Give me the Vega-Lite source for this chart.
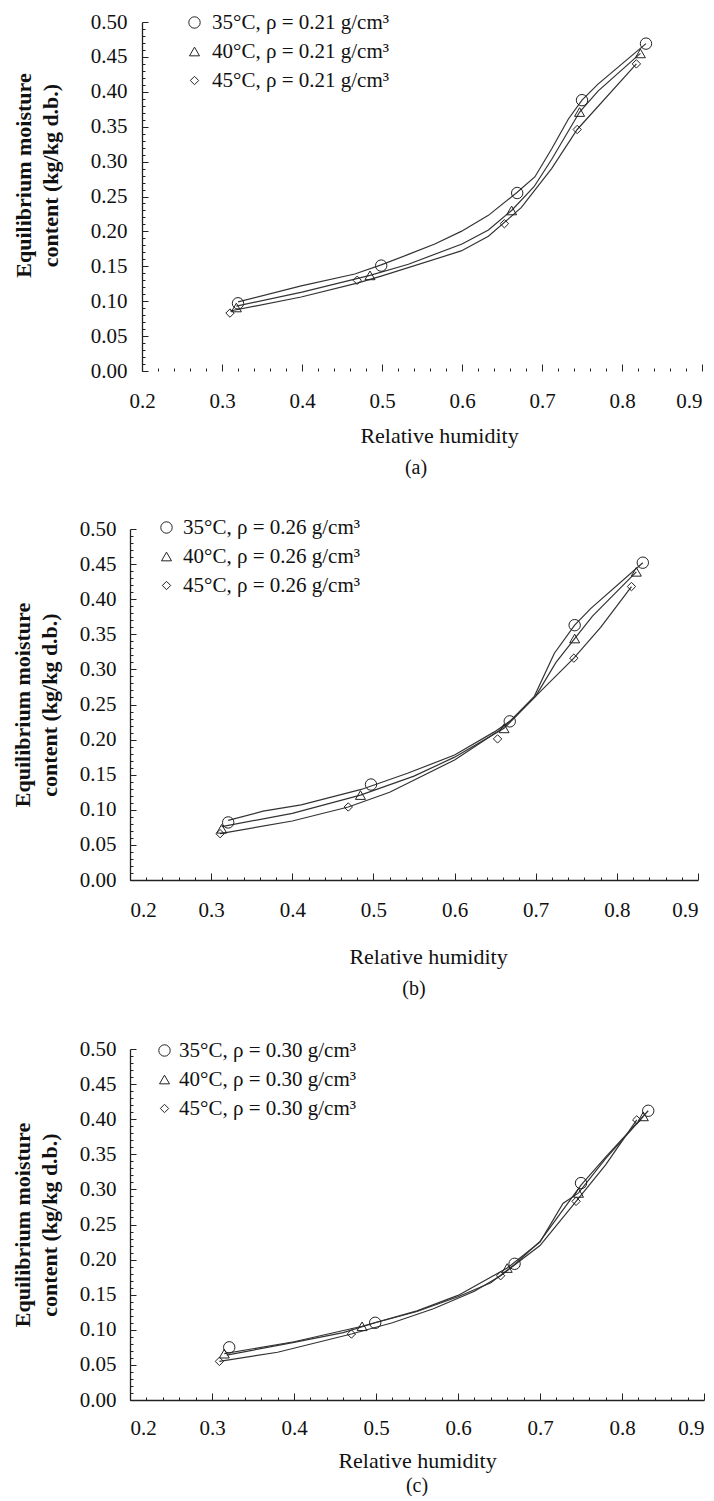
{
  "$schema": "https://vega.github.io/schema/vega-lite/v6.json",
  "background": "white",
  "padding": {"left": 11, "top": 11, "right": 2, "bottom": 0},
  "spacing": 39,
  "config": {
    "font": "Liberation Serif",
    "view": {"stroke": null},
    "axis": {"grid": false, "domainColor": "#222", "domainWidth": 1.3, "tickColor": "#222", "tickWidth": 1, "labelFont": "Liberation Serif", "labelFontSize": 21, "labelColor": "#111", "titleFont": "Liberation Serif", "titleColor": "#111", "labelOverlap": false},
    "legend": {"labelFont": "Liberation Serif", "labelFontSize": 21, "labelColor": "#111", "labelLimit": 0, "padding": 0, "rowPadding": 7, "symbolStrokeColor": "#222", "symbolStrokeWidth": 1, "symbolFillColor": "transparent", "title": null},
    "title": {"font": "Liberation Serif", "fontSize": 20, "fontWeight": "normal", "color": "#111"}
  },
  "resolve": {"scale": {"x": "independent", "y": "independent", "shape": "independent", "size": "independent"}, "legend": {"shape": "independent", "size": "independent"}},
  "datasets": {
    "pts": [
      {"p": "a", "s": "35°C, ρ = 0.21 g/cm³", "x": 0.320, "y": 0.097},
      {"p": "a", "s": "35°C, ρ = 0.21 g/cm³", "x": 0.499, "y": 0.151},
      {"p": "a", "s": "35°C, ρ = 0.21 g/cm³", "x": 0.669, "y": 0.255},
      {"p": "a", "s": "35°C, ρ = 0.21 g/cm³", "x": 0.750, "y": 0.388},
      {"p": "a", "s": "35°C, ρ = 0.21 g/cm³", "x": 0.830, "y": 0.469},
      {"p": "a", "s": "40°C, ρ = 0.21 g/cm³", "x": 0.318, "y": 0.091},
      {"p": "a", "s": "40°C, ρ = 0.21 g/cm³", "x": 0.485, "y": 0.137},
      {"p": "a", "s": "40°C, ρ = 0.21 g/cm³", "x": 0.662, "y": 0.230},
      {"p": "a", "s": "40°C, ρ = 0.21 g/cm³", "x": 0.747, "y": 0.371},
      {"p": "a", "s": "40°C, ρ = 0.21 g/cm³", "x": 0.823, "y": 0.455},
      {"p": "a", "s": "45°C, ρ = 0.21 g/cm³", "x": 0.310, "y": 0.083},
      {"p": "a", "s": "45°C, ρ = 0.21 g/cm³", "x": 0.469, "y": 0.130},
      {"p": "a", "s": "45°C, ρ = 0.21 g/cm³", "x": 0.653, "y": 0.211},
      {"p": "a", "s": "45°C, ρ = 0.21 g/cm³", "x": 0.744, "y": 0.346},
      {"p": "a", "s": "45°C, ρ = 0.21 g/cm³", "x": 0.818, "y": 0.440},
      {"p": "b", "s": "35°C, ρ = 0.26 g/cm³", "x": 0.321, "y": 0.082},
      {"p": "b", "s": "35°C, ρ = 0.26 g/cm³", "x": 0.497, "y": 0.136},
      {"p": "b", "s": "35°C, ρ = 0.26 g/cm³", "x": 0.668, "y": 0.226},
      {"p": "b", "s": "35°C, ρ = 0.26 g/cm³", "x": 0.748, "y": 0.363},
      {"p": "b", "s": "35°C, ρ = 0.26 g/cm³", "x": 0.832, "y": 0.452},
      {"p": "b", "s": "40°C, ρ = 0.26 g/cm³", "x": 0.313, "y": 0.073},
      {"p": "b", "s": "40°C, ρ = 0.26 g/cm³", "x": 0.484, "y": 0.121},
      {"p": "b", "s": "40°C, ρ = 0.26 g/cm³", "x": 0.661, "y": 0.216},
      {"p": "b", "s": "40°C, ρ = 0.26 g/cm³", "x": 0.748, "y": 0.344},
      {"p": "b", "s": "40°C, ρ = 0.26 g/cm³", "x": 0.824, "y": 0.439},
      {"p": "b", "s": "45°C, ρ = 0.26 g/cm³", "x": 0.311, "y": 0.066},
      {"p": "b", "s": "45°C, ρ = 0.26 g/cm³", "x": 0.469, "y": 0.104},
      {"p": "b", "s": "45°C, ρ = 0.26 g/cm³", "x": 0.653, "y": 0.201},
      {"p": "b", "s": "45°C, ρ = 0.26 g/cm³", "x": 0.747, "y": 0.316},
      {"p": "b", "s": "45°C, ρ = 0.26 g/cm³", "x": 0.818, "y": 0.418},
      {"p": "c", "s": "35°C, ρ = 0.30 g/cm³", "x": 0.321, "y": 0.075},
      {"p": "c", "s": "35°C, ρ = 0.30 g/cm³", "x": 0.499, "y": 0.110},
      {"p": "c", "s": "35°C, ρ = 0.30 g/cm³", "x": 0.669, "y": 0.194},
      {"p": "c", "s": "35°C, ρ = 0.30 g/cm³", "x": 0.750, "y": 0.309},
      {"p": "c", "s": "35°C, ρ = 0.30 g/cm³", "x": 0.832, "y": 0.412},
      {"p": "c", "s": "40°C, ρ = 0.30 g/cm³", "x": 0.315, "y": 0.066},
      {"p": "c", "s": "40°C, ρ = 0.30 g/cm³", "x": 0.483, "y": 0.105},
      {"p": "c", "s": "40°C, ρ = 0.30 g/cm³", "x": 0.660, "y": 0.188},
      {"p": "c", "s": "40°C, ρ = 0.30 g/cm³", "x": 0.747, "y": 0.295},
      {"p": "c", "s": "40°C, ρ = 0.30 g/cm³", "x": 0.826, "y": 0.404},
      {"p": "c", "s": "45°C, ρ = 0.30 g/cm³", "x": 0.309, "y": 0.055},
      {"p": "c", "s": "45°C, ρ = 0.30 g/cm³", "x": 0.470, "y": 0.094},
      {"p": "c", "s": "45°C, ρ = 0.30 g/cm³", "x": 0.652, "y": 0.177},
      {"p": "c", "s": "45°C, ρ = 0.30 g/cm³", "x": 0.744, "y": 0.283},
      {"p": "c", "s": "45°C, ρ = 0.30 g/cm³", "x": 0.818, "y": 0.399}
    ],
    "crv": [
      {"p": "a", "s": "35", "x": 0.320, "y": 0.099},
      {"p": "a", "s": "35", "x": 0.399, "y": 0.122},
      {"p": "a", "s": "35", "x": 0.466, "y": 0.139},
      {"p": "a", "s": "35", "x": 0.499, "y": 0.152},
      {"p": "a", "s": "35", "x": 0.533, "y": 0.167},
      {"p": "a", "s": "35", "x": 0.566, "y": 0.182},
      {"p": "a", "s": "35", "x": 0.599, "y": 0.200},
      {"p": "a", "s": "35", "x": 0.633, "y": 0.223},
      {"p": "a", "s": "35", "x": 0.669, "y": 0.256},
      {"p": "a", "s": "35", "x": 0.691, "y": 0.278},
      {"p": "a", "s": "35", "x": 0.712, "y": 0.318},
      {"p": "a", "s": "35", "x": 0.733, "y": 0.361},
      {"p": "a", "s": "35", "x": 0.750, "y": 0.388},
      {"p": "a", "s": "35", "x": 0.770, "y": 0.411},
      {"p": "a", "s": "35", "x": 0.830, "y": 0.469},
      {"p": "a", "s": "40", "x": 0.318, "y": 0.093},
      {"p": "a", "s": "40", "x": 0.400, "y": 0.113},
      {"p": "a", "s": "40", "x": 0.485, "y": 0.137},
      {"p": "a", "s": "40", "x": 0.533, "y": 0.153},
      {"p": "a", "s": "40", "x": 0.600, "y": 0.182},
      {"p": "a", "s": "40", "x": 0.633, "y": 0.202},
      {"p": "a", "s": "40", "x": 0.662, "y": 0.230},
      {"p": "a", "s": "40", "x": 0.690, "y": 0.264},
      {"p": "a", "s": "40", "x": 0.712, "y": 0.303},
      {"p": "a", "s": "40", "x": 0.747, "y": 0.371},
      {"p": "a", "s": "40", "x": 0.770, "y": 0.401},
      {"p": "a", "s": "40", "x": 0.823, "y": 0.455},
      {"p": "a", "s": "45", "x": 0.310, "y": 0.086},
      {"p": "a", "s": "45", "x": 0.399, "y": 0.106},
      {"p": "a", "s": "45", "x": 0.469, "y": 0.126},
      {"p": "a", "s": "45", "x": 0.499, "y": 0.136},
      {"p": "a", "s": "45", "x": 0.599, "y": 0.172},
      {"p": "a", "s": "45", "x": 0.633, "y": 0.193},
      {"p": "a", "s": "45", "x": 0.674, "y": 0.234},
      {"p": "a", "s": "45", "x": 0.712, "y": 0.290},
      {"p": "a", "s": "45", "x": 0.744, "y": 0.346},
      {"p": "a", "s": "45", "x": 0.818, "y": 0.440},
      {"p": "b", "s": "35", "x": 0.321, "y": 0.085},
      {"p": "b", "s": "35", "x": 0.364, "y": 0.098},
      {"p": "b", "s": "35", "x": 0.411, "y": 0.107},
      {"p": "b", "s": "35", "x": 0.485, "y": 0.129},
      {"p": "b", "s": "35", "x": 0.542, "y": 0.152},
      {"p": "b", "s": "35", "x": 0.600, "y": 0.178},
      {"p": "b", "s": "35", "x": 0.649, "y": 0.211},
      {"p": "b", "s": "35", "x": 0.668, "y": 0.226},
      {"p": "b", "s": "35", "x": 0.698, "y": 0.261},
      {"p": "b", "s": "35", "x": 0.723, "y": 0.323},
      {"p": "b", "s": "35", "x": 0.748, "y": 0.363},
      {"p": "b", "s": "35", "x": 0.768, "y": 0.387},
      {"p": "b", "s": "35", "x": 0.832, "y": 0.452},
      {"p": "b", "s": "40", "x": 0.313, "y": 0.076},
      {"p": "b", "s": "40", "x": 0.400, "y": 0.095},
      {"p": "b", "s": "40", "x": 0.484, "y": 0.121},
      {"p": "b", "s": "40", "x": 0.550, "y": 0.148},
      {"p": "b", "s": "40", "x": 0.600, "y": 0.175},
      {"p": "b", "s": "40", "x": 0.661, "y": 0.216},
      {"p": "b", "s": "40", "x": 0.700, "y": 0.262},
      {"p": "b", "s": "40", "x": 0.725, "y": 0.310},
      {"p": "b", "s": "40", "x": 0.748, "y": 0.344},
      {"p": "b", "s": "40", "x": 0.770, "y": 0.376},
      {"p": "b", "s": "40", "x": 0.824, "y": 0.439},
      {"p": "b", "s": "45", "x": 0.311, "y": 0.066},
      {"p": "b", "s": "45", "x": 0.400, "y": 0.084},
      {"p": "b", "s": "45", "x": 0.469, "y": 0.104},
      {"p": "b", "s": "45", "x": 0.520, "y": 0.125},
      {"p": "b", "s": "45", "x": 0.600, "y": 0.171},
      {"p": "b", "s": "45", "x": 0.655, "y": 0.213},
      {"p": "b", "s": "45", "x": 0.675, "y": 0.233},
      {"p": "b", "s": "45", "x": 0.747, "y": 0.316},
      {"p": "b", "s": "45", "x": 0.780, "y": 0.360},
      {"p": "b", "s": "45", "x": 0.818, "y": 0.418},
      {"p": "c", "s": "35", "x": 0.318, "y": 0.064},
      {"p": "c", "s": "35", "x": 0.400, "y": 0.082},
      {"p": "c", "s": "35", "x": 0.460, "y": 0.096},
      {"p": "c", "s": "35", "x": 0.499, "y": 0.110},
      {"p": "c", "s": "35", "x": 0.550, "y": 0.126},
      {"p": "c", "s": "35", "x": 0.600, "y": 0.147},
      {"p": "c", "s": "35", "x": 0.640, "y": 0.167},
      {"p": "c", "s": "35", "x": 0.669, "y": 0.193},
      {"p": "c", "s": "35", "x": 0.700, "y": 0.226},
      {"p": "c", "s": "35", "x": 0.720, "y": 0.258},
      {"p": "c", "s": "35", "x": 0.750, "y": 0.306},
      {"p": "c", "s": "35", "x": 0.780, "y": 0.346},
      {"p": "c", "s": "35", "x": 0.832, "y": 0.412},
      {"p": "c", "s": "40", "x": 0.315, "y": 0.066},
      {"p": "c", "s": "40", "x": 0.400, "y": 0.083},
      {"p": "c", "s": "40", "x": 0.483, "y": 0.105},
      {"p": "c", "s": "40", "x": 0.550, "y": 0.127},
      {"p": "c", "s": "40", "x": 0.600, "y": 0.149},
      {"p": "c", "s": "40", "x": 0.660, "y": 0.188},
      {"p": "c", "s": "40", "x": 0.700, "y": 0.225},
      {"p": "c", "s": "40", "x": 0.728, "y": 0.280},
      {"p": "c", "s": "40", "x": 0.747, "y": 0.295},
      {"p": "c", "s": "40", "x": 0.780, "y": 0.344},
      {"p": "c", "s": "40", "x": 0.826, "y": 0.404},
      {"p": "c", "s": "45", "x": 0.309, "y": 0.055},
      {"p": "c", "s": "45", "x": 0.380, "y": 0.068},
      {"p": "c", "s": "45", "x": 0.470, "y": 0.094},
      {"p": "c", "s": "45", "x": 0.520, "y": 0.110},
      {"p": "c", "s": "45", "x": 0.570, "y": 0.130},
      {"p": "c", "s": "45", "x": 0.620, "y": 0.155},
      {"p": "c", "s": "45", "x": 0.652, "y": 0.177},
      {"p": "c", "s": "45", "x": 0.700, "y": 0.220},
      {"p": "c", "s": "45", "x": 0.744, "y": 0.283},
      {"p": "c", "s": "45", "x": 0.780, "y": 0.335},
      {"p": "c", "s": "45", "x": 0.818, "y": 0.399}
    ]
  },
  "vconcat": [
    {
      "width": 572, "height": 349,
      "title": {"text": "(a)", "orient": "bottom", "anchor": "middle", "offset": 12},
      "encoding": {
        "x": {"field": "x", "type": "quantitative", "scale": {"domain": [0.185, 0.9], "nice": false, "zero": false},
          "axis": {"values": [0.2,0.22,0.24,0.26,0.28,0.3,0.32,0.34,0.36,0.38,0.4,0.42,0.44,0.46,0.48,0.5,0.52,0.54,0.56,0.58,0.6,0.62,0.64,0.66,0.68,0.7,0.72,0.74,0.76,0.78,0.8,0.82,0.84,0.86,0.88,0.9],
            "domain": false,
            "labelExpr": "abs(datum.value*10-round(datum.value*10))<0.001 ? format(datum.value,'.1f') : ''",
            "tickSize": {"condition": {"test": "abs(datum.value*10-round(datum.value*10))<0.001", "value": -7}, "value": -3},
            "labelPadding": 26, "labelFlush": true, "title": "Relative humidity", "titleFontSize": 22, "titleFontWeight": "normal", "titlePadding": 10, "titleX": 309}},
        "y": {"field": "y", "type": "quantitative", "scale": {"domain": [0, 0.5], "nice": false, "zero": true},
          "axis": {"values": [0,0.01,0.02,0.03,0.04,0.05,0.06,0.07,0.08,0.09,0.1,0.11,0.12,0.13,0.14,0.15,0.16,0.17,0.18,0.19,0.2,0.21,0.22,0.23,0.24,0.25,0.26,0.27,0.28,0.29,0.3,0.31,0.32,0.33,0.34,0.35,0.36,0.37,0.38,0.39,0.4,0.41,0.42,0.43,0.44,0.45,0.46,0.47,0.48,0.49,0.5],
            "offset": -12,
            "labelExpr": "abs(datum.value*20-round(datum.value*20))<0.001 ? format(datum.value,'.2f') : ''",
            "tickSize": {"condition": {"test": "abs(datum.value*20-round(datum.value*20))<0.001", "value": -6}, "value": -3},
            "labelPadding": 21, "title": ["Equilibrium moisture", "content (kg/kg d.b.)"], "titleFontSize": 22, "titleFontWeight": "bold", "titleLineHeight": 27, "titlePadding": 28, "titleY": 153}}
      },
      "layer": [
        {"data": {"values": [{}]},
         "mark": {"type": "rule", "color": "#222", "strokeWidth": 1.3},
         "encoding": {"x": {"datum": 0.2, "type": "quantitative"}, "x2": {"datum": 0.9}, "y": {"datum": 0, "type": "quantitative"}}},
        {"data": {"name": "crv"}, "transform": [{"filter": "datum.p === 'a'"}],
         "mark": {"type": "line", "color": "#333", "strokeWidth": 1.2},
         "encoding": {"detail": {"field": "s"}}},
        {"data": {"name": "pts"}, "transform": [{"filter": "datum.p === 'a'"}],
         "mark": {"type": "point", "filled": false, "color": "#222", "strokeWidth": 1, "opacity": 1},
         "encoding": {
           "shape": {"field": "s", "type": "nominal", "scale": {"range": ["circle", "triangle-up", "diamond"]}, "legend": {"orient": "none", "legendX": 54, "legendY": -10, "labelOffset": 7}},
           "size": {"field": "s", "type": "nominal", "scale": {"range": [130, 70, 55]}, "legend": {"orient": "none", "legendX": 54, "legendY": -10, "labelOffset": 7}}
         }}
      ]
    },
    {
      "width": 568, "height": 351,
      "title": {"text": "(b)", "orient": "bottom", "anchor": "middle", "offset": 12},
      "encoding": {
        "x": {"field": "x", "type": "quantitative", "scale": {"domain": [0.2, 0.9], "nice": false, "zero": false},
          "axis": {"values": [0.2,0.22,0.24,0.26,0.28,0.3,0.32,0.34,0.36,0.38,0.4,0.42,0.44,0.46,0.48,0.5,0.52,0.54,0.56,0.58,0.6,0.62,0.64,0.66,0.68,0.7,0.72,0.74,0.76,0.78,0.8,0.82,0.84,0.86,0.88,0.9],
            "labelExpr": "abs(datum.value*10-round(datum.value*10))<0.001 ? format(datum.value,'.1f') : ''",
            "tickSize": {"condition": {"test": "abs(datum.value*10-round(datum.value*10))<0.001", "value": -7}, "value": -3},
            "labelPadding": 26, "labelFlush": true, "title": "Relative humidity", "titleFontSize": 22, "titleFontWeight": "normal", "titlePadding": 22, "titleX": 298}},
        "y": {"field": "y", "type": "quantitative", "scale": {"domain": [0, 0.5], "nice": false, "zero": true},
          "axis": {"values": [0,0.01,0.02,0.03,0.04,0.05,0.06,0.07,0.08,0.09,0.1,0.11,0.12,0.13,0.14,0.15,0.16,0.17,0.18,0.19,0.2,0.21,0.22,0.23,0.24,0.25,0.26,0.27,0.28,0.29,0.3,0.31,0.32,0.33,0.34,0.35,0.36,0.37,0.38,0.39,0.4,0.41,0.42,0.43,0.44,0.45,0.46,0.47,0.48,0.49,0.5],
            "labelExpr": "abs(datum.value*20-round(datum.value*20))<0.001 ? format(datum.value,'.2f') : ''",
            "tickSize": {"condition": {"test": "abs(datum.value*20-round(datum.value*20))<0.001", "value": -6}, "value": -3},
            "labelPadding": 20, "title": ["Equilibrium moisture", "content (kg/kg d.b.)"], "titleFontSize": 22, "titleFontWeight": "bold", "titleLineHeight": 27, "titlePadding": 18}}
      },
      "layer": [
        {"data": {"name": "crv"}, "transform": [{"filter": "datum.p === 'b'"}],
         "mark": {"type": "line", "color": "#333", "strokeWidth": 1.2},
         "encoding": {"detail": {"field": "s"}}},
        {"data": {"name": "pts"}, "transform": [{"filter": "datum.p === 'b'"}],
         "mark": {"type": "point", "filled": false, "color": "#222", "strokeWidth": 1, "opacity": 1},
         "encoding": {
           "shape": {"field": "s", "type": "nominal", "scale": {"range": ["circle", "triangle-up", "diamond"]}, "legend": {"orient": "none", "legendX": 26, "legendY": -12, "labelOffset": 6}},
           "size": {"field": "s", "type": "nominal", "scale": {"range": [130, 70, 55]}, "legend": {"orient": "none", "legendX": 26, "legendY": -12, "labelOffset": 6}}
         }}
      ]
    },
    {
      "width": 574, "height": 351,
      "title": {"text": "(c)", "orient": "bottom", "anchor": "middle", "offset": 5},
      "encoding": {
        "x": {"field": "x", "type": "quantitative", "scale": {"domain": [0.2, 0.9], "nice": false, "zero": false},
          "axis": {"values": [0.2,0.22,0.24,0.26,0.28,0.3,0.32,0.34,0.36,0.38,0.4,0.42,0.44,0.46,0.48,0.5,0.52,0.54,0.56,0.58,0.6,0.62,0.64,0.66,0.68,0.7,0.72,0.74,0.76,0.78,0.8,0.82,0.84,0.86,0.88,0.9],
            "labelExpr": "abs(datum.value*10-round(datum.value*10))<0.001 ? format(datum.value,'.1f') : ''",
            "tickSize": {"condition": {"test": "abs(datum.value*10-round(datum.value*10))<0.001", "value": -7}, "value": -3},
            "labelPadding": 24, "labelFlush": true, "title": "Relative humidity", "titleFontSize": 22, "titleFontWeight": "normal", "titlePadding": 8}},
        "y": {"field": "y", "type": "quantitative", "scale": {"domain": [0, 0.5], "nice": false, "zero": true},
          "axis": {"values": [0,0.01,0.02,0.03,0.04,0.05,0.06,0.07,0.08,0.09,0.1,0.11,0.12,0.13,0.14,0.15,0.16,0.17,0.18,0.19,0.2,0.21,0.22,0.23,0.24,0.25,0.26,0.27,0.28,0.29,0.3,0.31,0.32,0.33,0.34,0.35,0.36,0.37,0.38,0.39,0.4,0.41,0.42,0.43,0.44,0.45,0.46,0.47,0.48,0.49,0.5],
            "labelExpr": "abs(datum.value*20-round(datum.value*20))<0.001 ? format(datum.value,'.2f') : ''",
            "tickSize": {"condition": {"test": "abs(datum.value*20-round(datum.value*20))<0.001", "value": -6}, "value": -3},
            "labelPadding": 20, "title": ["Equilibrium moisture", "content (kg/kg d.b.)"], "titleFontSize": 22, "titleFontWeight": "bold", "titleLineHeight": 27, "titlePadding": 18}}
      },
      "layer": [
        {"data": {"name": "crv"}, "transform": [{"filter": "datum.p === 'c'"}],
         "mark": {"type": "line", "color": "#333", "strokeWidth": 1.2},
         "encoding": {"detail": {"field": "s"}}},
        {"data": {"name": "pts"}, "transform": [{"filter": "datum.p === 'c'"}],
         "mark": {"type": "point", "filled": false, "color": "#222", "strokeWidth": 1, "opacity": 1},
         "encoding": {
           "shape": {"field": "s", "type": "nominal", "scale": {"range": ["circle", "triangle-up", "diamond"]}, "legend": {"orient": "none", "legendX": 24, "legendY": -9, "labelOffset": 4}},
           "size": {"field": "s", "type": "nominal", "scale": {"range": [130, 70, 55]}, "legend": {"orient": "none", "legendX": 24, "legendY": -9, "labelOffset": 4}}
         }}
      ]
    }
  ]
}
